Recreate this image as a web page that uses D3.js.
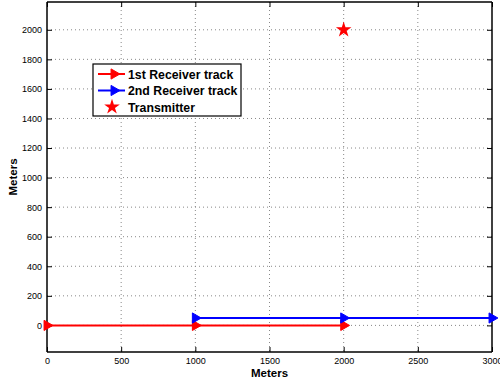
<!DOCTYPE html>
<html><head><meta charset="utf-8">
<script src="https://cdn.jsdelivr.net/npm/d3@7"></script>
<style>body{margin:0;background:#fff}svg{display:block}</style>
</head><body>
<script>
const xTicks = [0, 500, 1000, 1500, 2000, 2500, 3000];
const yTicks = [0, 200, 400, 600, 800, 1000, 1200, 1400, 1600, 1800, 2000];
const track1X = [0, 1000, 2000];
const track1Y = [0, 0, 0];
const track2X = [1000, 2000, 3000];
const track2Y = [50, 50, 50];
const transmitterX = [2000];
const transmitterY = [2000];
const seriesNames = ["1st Receiver track", "2nd Receiver track", "Transmitter"];
const seriesColors = ["#ff0000", "#0000ff", "#ff0000"];
const xLabel = "Meters", yLabel = "Meters";

const W = 500, H = 386;
const L = 47, R = 492, T = 2, B = 352;
const svg = d3.select("body").append("svg").attr("width", W).attr("height", H);
const x = d3.scaleLinear().domain([0, 3000]).range([L, R]);
const y = d3.scaleLinear().domain([-180, 2188]).range([B, T]);
const font = "Liberation Sans, Arial, Helvetica, sans-serif";

// grid
const g = svg.append("g");
g.selectAll(".gx").data(xTicks.filter(d => d > 0 && d < 3000)).join("line")
  .attr("x1", d => x(d)).attr("x2", d => x(d)).attr("y1", T).attr("y2", B)
  .attr("stroke", "#888").attr("stroke-width", 1).attr("stroke-dasharray", "1,3");
g.selectAll(".gy").data(yTicks).join("line")
  .attr("y1", d => y(d)).attr("y2", d => y(d)).attr("x1", L).attr("x2", R)
  .attr("stroke", "#888").attr("stroke-width", 1).attr("stroke-dasharray", "1,3");

// axes
const ax = svg.append("g").attr("transform", `translate(0,${B})`)
  .call(d3.axisBottom(x).tickValues(xTicks).tickSize(-5).tickPadding(6).tickFormat(d3.format("d")));
const axT = svg.append("g").attr("transform", `translate(0,${T})`)
  .call(d3.axisTop(x).tickValues(xTicks).tickSize(-5).tickFormat(""));
const ay = svg.append("g").attr("transform", `translate(${L},0)`)
  .call(d3.axisLeft(y).tickValues(yTicks).tickSize(-5).tickPadding(5).tickFormat(d3.format("d")));
const ayR = svg.append("g").attr("transform", `translate(${R},0)`)
  .call(d3.axisRight(y).tickValues(yTicks).tickSize(-5).tickFormat(""));
[ax, axT, ay, ayR].forEach(a => {
  a.selectAll(".domain").attr("stroke", "#000").attr("stroke-width", 1.5);
  a.selectAll(".tick line").attr("stroke", "#000");
  a.selectAll("text").attr("font-family", font).attr("font-size", 9).attr("fill", "#000");
});
ax.select(".domain").attr("d", `M${L},0H${R}`);
axT.select(".domain").attr("d", `M${L},0H${R}`);
ay.select(".domain").attr("d", `M0,${T}V${B}`);
ayR.select(".domain").attr("d", `M0,${T}V${B}`);

// tracks
const tri = d3.symbol().type(d3.symbolTriangle).size(45);
function track(xs, ys, color) {
  const pts = xs.map((v, i) => [v, ys[i]]);
  svg.append("path").datum(pts)
    .attr("d", d3.line().x(d => x(d[0])).y(d => y(d[1])))
    .attr("fill", "none").attr("stroke", color).attr("stroke-width", 2);
  svg.selectAll(null).data(pts).join("path")
    .attr("d", tri)
    .attr("transform", d => `translate(${x(d[0])},${y(d[1])}) rotate(90)`)
    .attr("fill", color).attr("stroke", color).attr("stroke-width", 1);
}
track(track1X, track1Y, seriesColors[0]);
track(track2X, track2Y, seriesColors[1]);

const star = d3.symbol().type(d3.symbolStar).size(75);
svg.selectAll(null).data(transmitterX.map((v, i) => [v, transmitterY[i]])).join("path")
  .attr("d", star).attr("transform", d => `translate(${x(d[0])},${y(d[1])})`)
  .attr("fill", seriesColors[2]);

// labels
svg.append("text").attr("x", (L + R) / 2).attr("y", 377).attr("text-anchor", "middle")
  .attr("font-family", font).attr("font-weight", "bold").attr("font-size", 11.5).text(xLabel);
svg.append("text").attr("transform", `translate(17,${(T + B) / 2}) rotate(-90)`).attr("text-anchor", "middle")
  .attr("font-family", font).attr("font-weight", "bold").attr("font-size", 11.5).text(yLabel);

// legend
const lg = svg.append("g");
lg.append("rect").attr("x", 93).attr("y", 64).attr("width", 148).attr("height", 52)
  .attr("fill", "#fff").attr("stroke", "#000").attr("stroke-width", 1.2);
seriesNames.forEach((name, i) => {
  const cy = 74 + i * 16.5;
  if (i < 2) {
    lg.append("line").attr("x1", 98).attr("x2", 125).attr("y1", cy).attr("y2", cy)
      .attr("stroke", seriesColors[i]).attr("stroke-width", 2);
    lg.append("path").attr("d", tri).attr("transform", `translate(114,${cy}) rotate(90)`)
      .attr("fill", seriesColors[i]).attr("stroke", seriesColors[i]);
  } else {
    lg.append("path").attr("d", star).attr("transform", `translate(112,${cy})`).attr("fill", seriesColors[i]);
  }
  lg.append("text").attr("x", 128).attr("y", cy + 4.5).attr("font-family", font)
    .attr("font-weight", "bold").attr("font-size", 12.3).text(name);
});
</script>
</body></html>
